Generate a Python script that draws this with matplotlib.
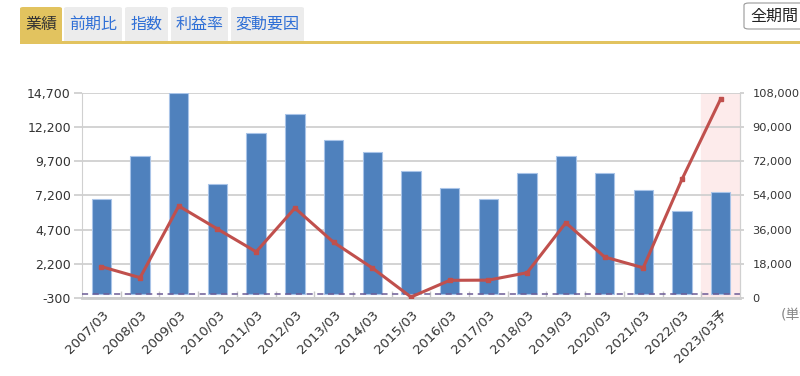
import matplotlib.pyplot as plt
from matplotlib.patches import FancyBboxPatch, Rectangle
from matplotlib.ticker import FuncFormatter, FixedLocator

plt.rcParams['font.family'] = ['DejaVu Sans', 'Noto Sans CJK JP']

# ---------- DATA ----------
periods = ['2007/03', '2008/03', '2009/03', '2010/03', '2011/03', '2012/03',
           '2013/03', '2014/03', '2015/03', '2016/03', '2017/03', '2018/03',
           '2019/03', '2020/03', '2021/03', '2022/03', '2023/03予']
sales = [6950, 10050, 14700, 8000, 11760, 13170, 11220, 10340, 9000,
         7740, 6960, 8800, 10050, 8810, 7570, 6060, 7470]
profit = [16500, 10700, 48400, 36300, 24300, 47300, 29300, 15800, 500,
          9300, 9400, 13300, 39600, 21600, 15900, 62400, 104700]
left_ticks = [-300, 2200, 4700, 7200, 9700, 12200, 14700]
right_ticks = [0, 18000, 36000, 54000, 72000, 90000, 108000]
tabs = ['業績', '前期比', '指数', '利益率', '変動要因']

W, H = 800, 376
fig = plt.figure(figsize=(W / 100, H / 100), dpi=100)


def px(x, y):
    # pixel (from top-left) -> figure fraction
    return x / W, 1 - y / H


# ---------- HEADER (tabs) ----------
tab_x = [20, 64, 125, 171, 231]
tab_w = [42, 58, 43, 57, 73]
for i, (name, tx, tw) in enumerate(zip(tabs, tab_x, tab_w)):
    sel = i == 0
    x0, y0 = px(tx, 42)
    box = FancyBboxPatch((x0, y0), tw / W, 35 / H,
                         boxstyle='round,pad=0,rounding_size=0.004',
                         transform=fig.transFigure,
                         facecolor='#e2c35f' if sel else '#ececec',
                         edgecolor='none')
    fig.add_artist(box)
    cx, cy = px(tx + tw / 2, 24)
    fig.text(cx, cy, name, ha='center', va='center', fontsize=11.5,
             color='#333333' if sel else '#2f6fd6')

# gold underline
gx, gy = px(20, 43.5)
fig.add_artist(Rectangle((gx, gy), 780 / W, 3 / H, transform=fig.transFigure,
                         facecolor='#e2c35f', edgecolor='none'))

# period button
bx, by = px(744, 29)
fig.add_artist(FancyBboxPatch((bx, by), 70 / W, 26 / H,
                              boxstyle='round,pad=0,rounding_size=0.006',
                              transform=fig.transFigure, facecolor='white',
                              edgecolor='#999999', linewidth=0.8))
tx_, ty_ = px(750, 16)
fig.text(tx_, ty_, '全期間', ha='left', va='center', fontsize=11.5, color='#222222')

# unit label (cut off at the edge, as in the original)
ux, uy = px(781, 315)
fig.text(ux, uy, '(単位', ha='left', va='center', fontsize=10, color='#888888')

# ---------- CHART ----------
ax = fig.add_axes([82 / W, 1 - 298 / H, 658 / W, 205.3 / H])
x = list(range(len(periods)))

ax.axvspan(len(periods) - 1.5, len(periods) - 0.5, color='#fdebeb', zorder=0)
ax.bar(x, sales, width=0.5, color='#4f81bd', edgecolor='#a9c4e8',
       linewidth=0.8, zorder=2)
ax.axhline(0, color='#6b5b95', linestyle=(0, (4, 3)), linewidth=1.1, zorder=3)

ax.set_xlim(-0.5, len(periods) - 0.5)
ax.set_ylim(left_ticks[0], left_ticks[-1])
ax.set_yticks(left_ticks)
ax.yaxis.set_major_formatter(FuncFormatter(lambda v, p: f'{int(v):,}'))
ax.grid(axis='y', color='#d0d0d0', linewidth=1.3, zorder=1)
ax.set_axisbelow(True)

ax.set_xticks(x)
ax.set_xticklabels(periods, rotation=45, ha='right', rotation_mode='anchor')
ax.xaxis.set_minor_locator(FixedLocator([i + 0.5 for i in x[:-1]]))
ax.tick_params(axis='x', which='major', length=0, pad=7, labelsize=9.5,
               labelcolor='#333333')
ax.tick_params(axis='x', which='minor', direction='in', length=5,
               color='#c8c8c8', width=1)
ax.tick_params(axis='y', length=6, color='#d0d0d0', width=1.3, labelsize=9,
               labelcolor='#333333', pad=2)

ax.spines['top'].set_visible(False)
ax.spines['left'].set_color('#d0d0d0')
ax.spines['right'].set_color('#d0d0d0')
ax.spines['bottom'].set_color('#cccccc')
ax.spines['bottom'].set_linewidth(2)

ax2 = ax.twinx()
ax2.plot(x, profit, color='#c0504d', linewidth=2.2, marker='s', markersize=3.5,
         zorder=4)
ax2.set_ylim(right_ticks[0], right_ticks[-1])
ax2.set_yticks(right_ticks)
ax2.yaxis.set_major_formatter(FuncFormatter(lambda v, p: f'{int(v):,}'))
ax2.tick_params(axis='y', length=3, color='#d0d0d0', width=1.3, labelsize=8.2,
                labelcolor='#333333', pad=6)
for side in ['top', 'left', 'bottom']:
    ax2.spines[side].set_visible(False)
ax2.spines['right'].set_color('#d0d0d0')

fig.savefig('out.png', dpi=100)
